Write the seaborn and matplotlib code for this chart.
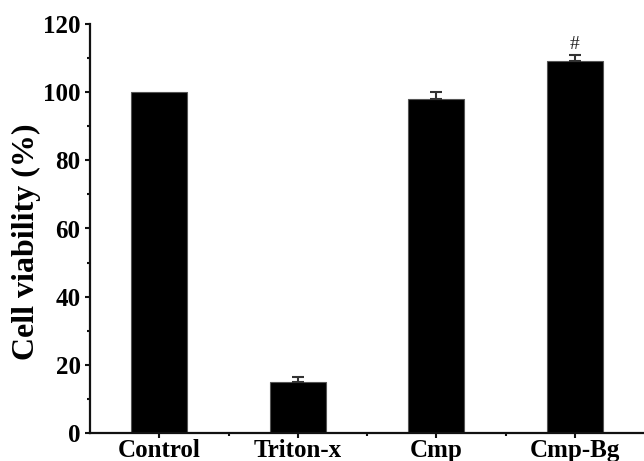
import matplotlib
matplotlib.use("Agg")
import matplotlib.pyplot as plt
from matplotlib.ticker import MultipleLocator
import seaborn as sns
import pandas as pd
import numpy as np

groups = ["Control", "Triton-x", "Cmp", "Cmp-Bg"]
viability = [100.0, 15.0, 98.0, 109.0]
sd = [0.0, 1.4, 2.0, 2.0]
marks = ["", "", "", "#"]

sns.set_theme(style="ticks")
plt.rcParams["font.family"] = ["Liberation Serif", "DejaVu Serif"]
plt.rcParams["text.color"] = "black"
plt.rcParams["axes.labelcolor"] = "black"
plt.rcParams["xtick.color"] = "black"
plt.rcParams["ytick.color"] = "black"

df = pd.DataFrame({"group": groups, "viability": viability, "sd": sd})

fig = plt.figure(figsize=(6.44, 4.61), dpi=100)
ax = fig.add_axes([90 / 644, 1 - 433 / 461, 1 - 90 / 644, (433 - 24) / 461])

sns.barplot(data=df, x="group", y="viability", color="black", width=0.405,
            edgecolor="#555555", linewidth=0.8, errorbar=None, ax=ax,
            saturation=1)

# upper error bars only, for groups with a nonzero spread
x = np.arange(len(groups))
has_err = df["sd"].to_numpy() > 0
err = df["sd"].to_numpy()[has_err]
ax.errorbar(x[has_err], df["viability"].to_numpy()[has_err],
            yerr=[np.zeros_like(err), err], fmt="none",
            ecolor="#333333", elinewidth=1.5, capsize=4.5, capthick=1.5)

for xi, v, e, m in zip(x, viability, sd, marks):
    if m:
        ax.text(xi, v + e + 1.7, m, ha="center", va="baseline",
                fontsize=14, color="#222222")

ax.set_xlim(-0.5, 3.5)
ax.set_ylim(0, 120)
ax.yaxis.set_major_locator(MultipleLocator(20))
ax.yaxis.set_minor_locator(MultipleLocator(10))
ax.set_xticks(x)
ax.set_xticks(x[:-1] + 0.5, minor=True)

ax.set_xlabel("")
ax.set_ylabel("Cell viability (%)", fontsize=23, fontweight="bold")
ax.yaxis.set_label_coords(-0.088, 0.467)

sns.despine(ax=ax)
for s in ["left", "bottom"]:
    ax.spines[s].set_linewidth(1.6)
    ax.spines[s].set_color("#111111")

ax.tick_params(axis="both", which="major", length=3.8, width=1.5, color="#111111",
               labelsize=18, pad=3)
ax.tick_params(axis="x", which="major", pad=0.5)
ax.tick_params(axis="both", which="minor", length=2.4, width=1.5, color="#111111")
for lab in ax.get_xticklabels() + ax.get_yticklabels():
    lab.set_fontweight("bold")

fig.savefig("out.png", dpi=100)
